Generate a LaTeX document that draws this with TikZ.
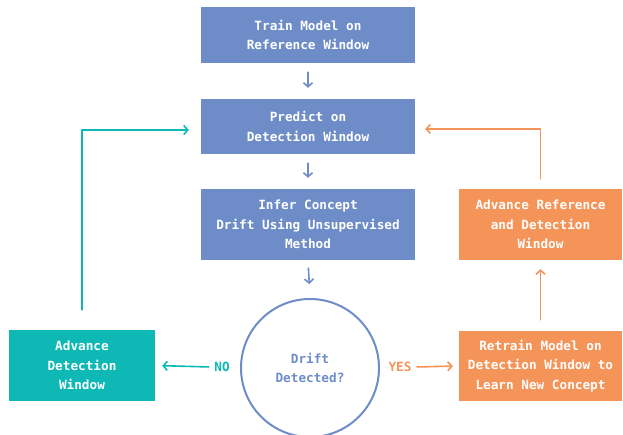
\documentclass[tikz,border=0pt]{standalone}
\usepackage{fontspec}
\setmonofont{DejaVu Sans Mono}
\usetikzlibrary{arrows.meta}
\definecolor{flowblue}{HTML}{6D8CC8}
\definecolor{flowteal}{HTML}{0DB8B5}
\definecolor{floworange}{HTML}{F59458}
\begin{document}
\begin{tikzpicture}[x=1pt, y=-1pt, font=\ttfamily\bfseries\fontsize{12.7}{19.5}\selectfont, line join=round, line cap=round, >={Straight Barb[length=4pt,width=9pt]},
	flowbox/.style={fill=#1, text=white, align=center, inner sep=0pt},
	flowline/.style={draw=#1, line width=1.6pt, ->}]
	\useasboundingbox (0,0) rectangle (623,435);
	\node[flowbox=flowblue, minimum width=214, minimum height=56] (train) at (308,35) {Train Model on\\Reference Window};
	\node[flowbox=flowblue, minimum width=214, minimum height=55] (predict) at (308,126.5) {Predict on\\Detection Window};
	\node[flowbox=flowblue, minimum width=214, minimum height=71] (infer) at (308,224.5) {Infer Concept\\Drift Using Unsupervised\\Method};
	\node[circle, draw=flowblue, line width=2pt, minimum size=138, text=flowblue, align=center] (drift) at (310,368) {Drift\\Detected?};
	\node[flowbox=flowteal, minimum width=146, minimum height=71] (advdet) at (82,365.5) {Advance\\Detection\\Window};
	\node[flowbox=floworange, minimum width=163, minimum height=70] (retrain) at (540.5,366) {Retrain Model on\\Detection Window to\\Learn New Concept};
	\node[flowbox=floworange, minimum width=163, minimum height=71] (advref) at (540.5,224.5) {Advance Reference\\and Detection\\Window};
	\node[text=flowteal] (no) at (222,367) {NO};
	\node[text=floworange] (yes) at (400,367) {YES};
	% down the middle
	\foreach \a/\b/\s/\e in {train/predict/9/11, predict/infer/9/11, infer/drift/8/14}
		\draw[flowline=flowblue, shorten <=\s, shorten >=\e] (\a.south) -- (\b.north);
	% no branch
	\draw[flowline=flowteal, shorten <=2, shorten >=7] (no.west) -- (advdet.east);
	\draw[flowline=flowteal, shorten <=20, shorten >=12] (advdet.north) |- ([yshift=-3.5pt]predict.west);
	% yes branch
	\draw[flowline=floworange, shorten <=2, shorten >=6] (yes.east) -- (retrain.west);
	\draw[flowline=floworange, shorten <=11, shorten >=9] (retrain.north) -- (advref.south);
	\draw[flowline=floworange, shorten <=10, shorten >=10] (advref.north) |- ([yshift=-2.5pt]predict.east);
\end{tikzpicture}
\end{document}
